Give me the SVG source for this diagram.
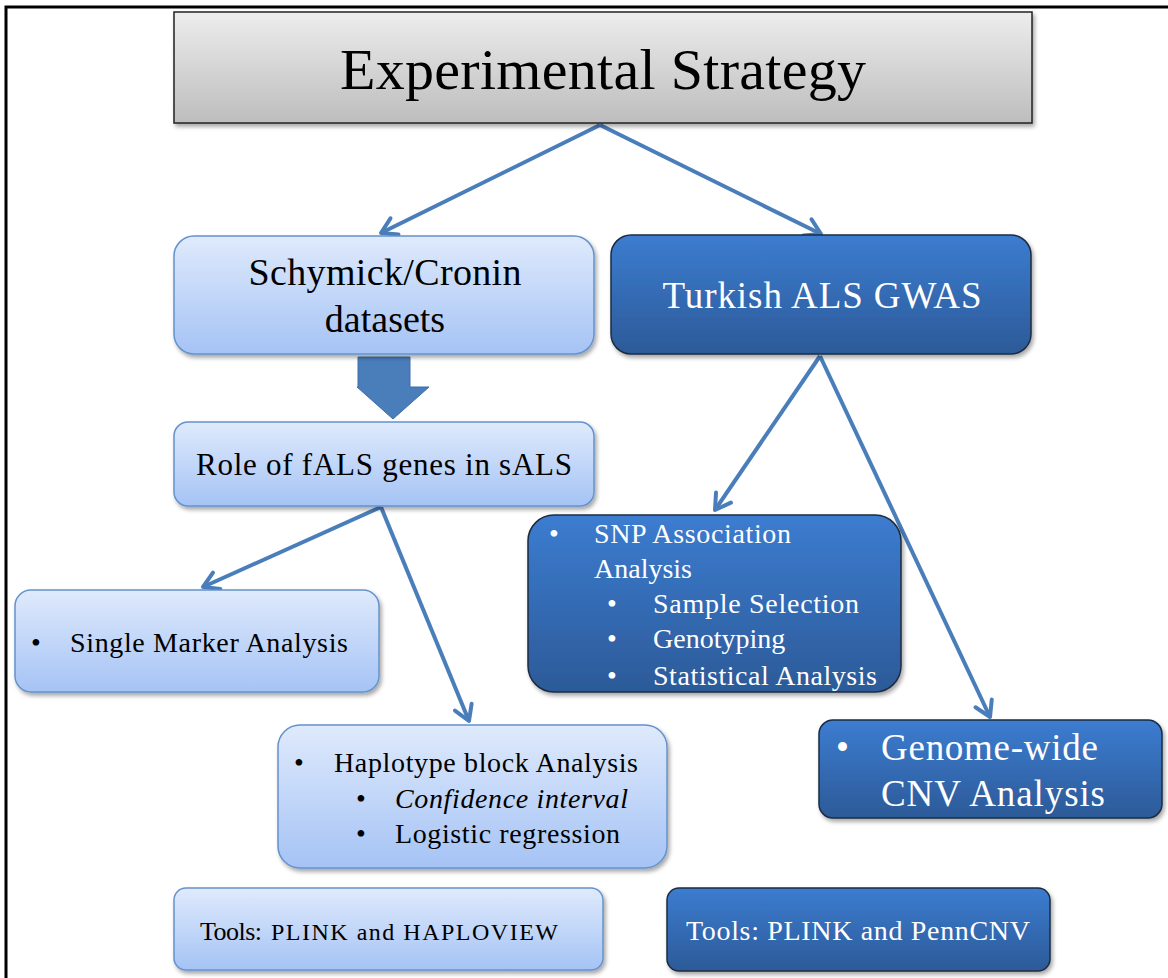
<svg xmlns="http://www.w3.org/2000/svg" width="1168" height="978" viewBox="0 0 1168 978">
  <defs>
    <linearGradient id="gGray" x1="0" y1="0" x2="0" y2="1">
      <stop offset="0" stop-color="#ededed"/>
      <stop offset="1" stop-color="#bdbdbd"/>
    </linearGradient>
    <linearGradient id="gLight" x1="0" y1="0" x2="0" y2="1">
      <stop offset="0" stop-color="#dfeafc"/>
      <stop offset="1" stop-color="#a5c3f5"/>
    </linearGradient>
    <linearGradient id="gDark" x1="0" y1="0" x2="0" y2="1">
      <stop offset="0" stop-color="#3c7cd0"/>
      <stop offset="1" stop-color="#2c5a98"/>
    </linearGradient>
    <filter id="shadow" x="-10%" y="-10%" width="130%" height="140%">
      <feDropShadow dx="2" dy="3" stdDeviation="2" flood-color="#000" flood-opacity="0.35"/>
    </filter>
    <marker id="vhead" markerUnits="userSpaceOnUse" markerWidth="24" markerHeight="24" viewBox="0 0 24 24" refX="18" refY="12" orient="auto">
      <path d="M3,3 L18,12 L3,21" fill="none" stroke="#4a7ebb" stroke-width="4" stroke-linecap="round" stroke-linejoin="round"/>
    </marker>
  </defs>
  <style>
    .light { fill: url(#gLight); stroke: #6592cc; stroke-width: 1.5; filter: url(#shadow); }
    .dark { fill: url(#gDark); stroke: #1d2c40; stroke-width: 1.5; filter: url(#shadow); }
    .gray { fill: url(#gGray); stroke: #222; stroke-width: 1.5; filter: url(#shadow); }
    text { font-family: "Liberation Serif", "Times New Roman", serif; fill: #000; }
    .w { fill: #fff; }
    .c { text-anchor: middle; }
    .conn { fill: none; stroke: #4a7ebb; stroke-width: 4; marker-end: url(#vhead); }
  </style>

  <rect width="1168" height="978" fill="#fff"/>
  <!-- page frame -->
  <path d="M6,978 L6,7 L1168,7" fill="none" stroke="#000" stroke-width="3"/>

  <g id="connectors">
    <line class="conn" x1="600" y1="125" x2="381" y2="233"/>
    <line class="conn" x1="600" y1="125" x2="821" y2="234"/>
    <line class="conn" x1="820" y1="356" x2="715" y2="510"/>
    <line class="conn" x1="820" y1="356" x2="990" y2="717"/>
    <line class="conn" x1="381" y1="507" x2="203" y2="587"/>
    <line class="conn" x1="381" y1="507" x2="469" y2="721"/>
    <!-- block arrow between dataset and role boxes -->
    <path d="M358,357 L410,357 L410,387 L429,387 L393,419 L357,387 L358,387 Z" fill="#4a7ebb" stroke="#3d6ea8" stroke-width="1"/>
  </g>

  <g id="title">
    <rect class="gray" x="174" y="12" width="858" height="111"/>
    <text class="c" x="603" y="89" font-size="58" textLength="526">Experimental Strategy</text>
  </g>

  <g id="datasets">
    <rect class="light" x="174" y="236" width="420" height="118" rx="20"/>
    <text class="c" x="385" y="285" font-size="38" textLength="273">Schymick/Cronin</text>
    <text class="c" x="385" y="332" font-size="38">datasets</text>
  </g>

  <g id="turkish">
    <rect class="dark" x="611" y="235" width="420" height="119" rx="20"/>
    <text class="c w" x="822" y="308" font-size="37" textLength="319">Turkish ALS GWAS</text>
  </g>

  <g id="role">
    <rect class="light" x="174" y="422" width="420" height="84" rx="14"/>
    <text class="c" x="384" y="475" font-size="31" textLength="376">Role of fALS genes in sALS</text>
  </g>

  <g id="single">
    <rect class="light" x="15" y="590" width="364" height="102" rx="16"/>
    <text x="31" y="652" font-size="28">•</text>
    <text x="70" y="652" font-size="28" textLength="278">Single Marker Analysis</text>
  </g>

  <g id="haplotype">
    <rect class="light" x="278" y="725" width="389" height="143" rx="22"/>
    <text x="294" y="772" font-size="28">•</text>
    <text x="334" y="772" font-size="28" textLength="304">Haplotype block Analysis</text>
    <text x="356" y="808" font-size="28">•</text>
    <text x="395" y="808" font-size="28" font-style="italic" textLength="233">Confidence interval</text>
    <text x="356" y="843" font-size="28">•</text>
    <text x="395" y="843" font-size="28" textLength="225">Logistic regression</text>
  </g>

  <g id="snp">
    <rect class="dark" x="528" y="515" width="373" height="177" rx="26"/>
    <text class="w" x="549" y="543" font-size="28">•</text>
    <text class="w" x="594" y="543" font-size="28" textLength="197">SNP Association</text>
    <text class="w" x="594" y="578" font-size="28">Analysis</text>
    <text class="w" x="607" y="613" font-size="28">•</text>
    <text class="w" x="653" y="613" font-size="28" textLength="206">Sample Selection</text>
    <text class="w" x="607" y="648" font-size="28">•</text>
    <text class="w" x="653" y="648" font-size="28">Genotyping</text>
    <text class="w" x="607" y="685" font-size="28">•</text>
    <text class="w" x="653" y="685" font-size="28" textLength="224">Statistical Analysis</text>
  </g>

  <g id="cnv">
    <rect class="dark" x="819" y="720" width="343" height="98" rx="14"/>
    <text class="w" x="836" y="760" font-size="37">•</text>
    <text class="w" x="881" y="760" font-size="37" textLength="217">Genome-wide</text>
    <text class="w" x="881" y="806" font-size="37" textLength="224">CNV Analysis</text>
  </g>

  <g id="tools-left">
    <rect class="light" x="174" y="888" width="429" height="82" rx="12"/>
    <text x="200" y="940" font-size="26" textLength="62">Tools:</text>
    <text x="271" y="940" font-size="24" textLength="287">PLINK and HAPLOVIEW</text>
  </g>

  <g id="tools-right">
    <rect class="dark" x="667" y="888" width="383" height="83" rx="12"/>
    <text class="w" x="686" y="940" font-size="28" textLength="344">Tools: PLINK and PennCNV</text>
  </g>
</svg>
